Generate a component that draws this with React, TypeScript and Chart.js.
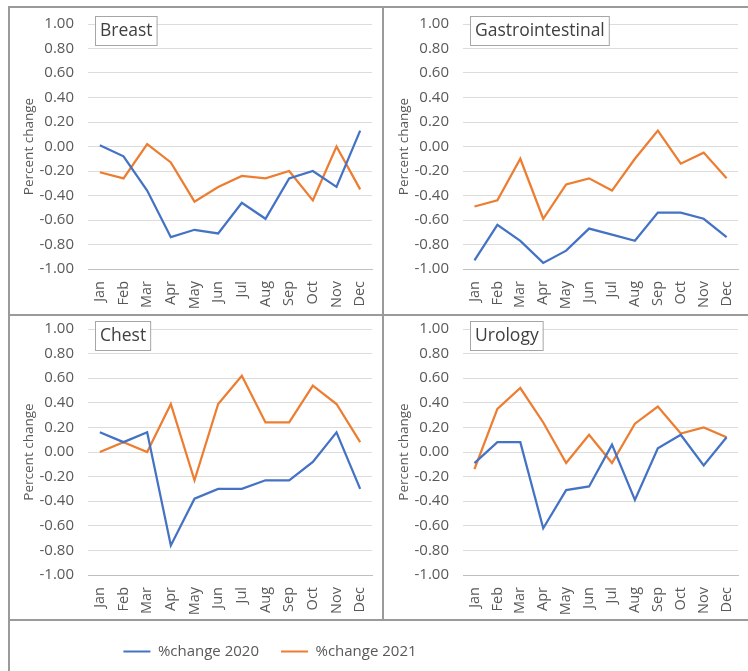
import React, { useEffect, useRef } from "react";
import { Chart, registerables } from "chart.js";
Chart.register(...registerables);

const MONTHS = ["Jan", "Feb", "Mar", "Apr", "May", "Jun", "Jul", "Aug", "Sep", "Oct", "Nov", "Dec"];
const SERIES_LABELS = ["%change 2020", "%change 2021"];
const SERIES_COLORS = ["#4472C4", "#ED7D31"];
const Y_MIN = -1;
const Y_MAX = 1;
const Y_STEP = 0.2;

const BREAST_2020 = [0.01, -0.08, -0.36, -0.74, -0.68, -0.71, -0.46, -0.59, -0.26, -0.2, -0.33, 0.13];
const BREAST_2021 = [-0.21, -0.26, 0.02, -0.13, -0.45, -0.33, -0.24, -0.26, -0.2, -0.44, 0.0, -0.35];
const GASTRO_2020 = [-0.93, -0.64, -0.77, -0.95, -0.85, -0.67, -0.72, -0.77, -0.54, -0.54, -0.59, -0.74];
const GASTRO_2021 = [-0.49, -0.44, -0.1, -0.59, -0.31, -0.26, -0.36, -0.1, 0.13, -0.14, -0.05, -0.26];
const CHEST_2020 = [0.16, 0.08, 0.16, -0.76, -0.38, -0.3, -0.3, -0.23, -0.23, -0.08, 0.16, -0.3];
const CHEST_2021 = [0.0, 0.08, 0.0, 0.39, -0.23, 0.39, 0.62, 0.24, 0.24, 0.54, 0.39, 0.08];
const UROLOGY_2020 = [-0.09, 0.08, 0.08, -0.62, -0.31, -0.28, 0.06, -0.39, 0.03, 0.14, -0.11, 0.12];
const UROLOGY_2021 = [-0.14, 0.35, 0.52, 0.24, -0.09, 0.14, -0.09, 0.23, 0.37, 0.15, 0.2, 0.12];

const FONT = '"Open Sans", "DejaVu Sans", sans-serif';

const titleBoxPlugin = {
  id: "titleBox",
  afterDraw(chart: any, _args: any, opts: any) {
    const { ctx, chartArea } = chart;
    if (!opts || !opts.text) return;
    ctx.save();
    ctx.font = `17.5px ${FONT}`;
    const w = ctx.measureText(opts.text).width;
    const x = Math.round(chartArea.left + 7);
    const y = Math.round(chartArea.top - 8);
    const bw = w + 9;
    const bh = 29;
    ctx.fillStyle = "#ffffff";
    ctx.fillRect(x, y, bw, bh);
    ctx.strokeStyle = "#a6a6a6";
    ctx.lineWidth = 1;
    ctx.strokeRect(x + 0.5, y + 0.5, bw, bh);
    ctx.fillStyle = "#404040";
    ctx.textBaseline = "middle";
    ctx.textAlign = "left";
    ctx.fillText(opts.text, x + 5, y + bh / 2 + 1);
    ctx.restore();
  },
};

type PanelProps = {
  title: string;
  s2020: number[];
  s2021: number[];
  left: number;
  top: number;
  width: number;
  height: number;
  yWidth: number;
  padTop: number;
  padRight: number;
  xHeight: number;
};

function Panel(p: PanelProps) {
  const ref = useRef<HTMLCanvasElement>(null);
  useEffect(() => {
    if (!ref.current) return;
    const chart = new Chart(ref.current, {
      type: "line",
      data: {
        labels: MONTHS,
        datasets: [
          {
            label: SERIES_LABELS[0],
            data: p.s2020,
            borderColor: SERIES_COLORS[0],
            backgroundColor: SERIES_COLORS[0],
            borderWidth: 2.25,
            pointRadius: 0,
            tension: 0,
          },
          {
            label: SERIES_LABELS[1],
            data: p.s2021,
            borderColor: SERIES_COLORS[1],
            backgroundColor: SERIES_COLORS[1],
            borderWidth: 2.25,
            pointRadius: 0,
            tension: 0,
          },
        ],
      },
      options: {
        animation: false,
        responsive: true,
        maintainAspectRatio: false,
        layout: { padding: { top: p.padTop, right: p.padRight, left: 0, bottom: 0 } },
        plugins: {
          legend: { display: false },
          tooltip: { enabled: false },
          titleBox: { text: p.title },
        } as any,
        scales: {
          x: {
            offset: true,
            grid: { display: false },
            border: { display: true, color: "#bfbfbf", width: 1 },
            ticks: {
              autoSkip: false,
              minRotation: 90,
              maxRotation: 90,
              padding: 4,
              color: "#595959",
              font: { family: FONT, size: 14.5 },
            },
            afterFit: (s: any) => {
              s.height = p.xHeight;
            },
          },
          y: {
            min: Y_MIN,
            max: Y_MAX,
            border: { display: false },
            grid: {
              drawTicks: false,
              color: (c: any) => (c.index === 0 ? "#bfbfbf" : "#dcdcdc"),
              lineWidth: 1,
            },
            ticks: {
              stepSize: Y_STEP,
              padding: 14,
              color: "#595959",
              font: { family: FONT, size: 15 },
              callback: (v: any) => Number(v).toFixed(2),
            },
            title: {
              display: true,
              text: "Percent change",
              color: "#595959",
              font: { family: FONT, size: 13.5 },
              padding: { top: 11, bottom: 0 },
            },
            afterFit: (s: any) => {
              s.width = p.yWidth;
            },
          },
        },
      },
      plugins: [titleBoxPlugin],
    } as any);
    return () => chart.destroy();
  }, []);
  return (
    <div style={{ position: "absolute", left: p.left, top: p.top, width: p.width, height: p.height }}>
      <canvas ref={ref} />
    </div>
  );
}

function Legend() {
  const ref = useRef<HTMLCanvasElement>(null);
  useEffect(() => {
    if (!ref.current) return;
    const chart = new Chart(ref.current, {
      type: "line",
      data: {
        labels: [],
        datasets: SERIES_LABELS.map((l, i) => ({
          label: l,
          data: [],
          borderColor: SERIES_COLORS[i],
          backgroundColor: SERIES_COLORS[i],
        })),
      },
      options: {
        animation: false,
        responsive: true,
        maintainAspectRatio: false,
        layout: { padding: { top: 0 } },
        scales: { x: { display: false }, y: { display: false } },
        plugins: {
          tooltip: { enabled: false },
          legend: {
            display: true,
            position: "top",
            onClick: () => {},
            labels: {
              boxWidth: 27,
              boxHeight: 2,
              padding: 22,
              color: "#595959",
              font: { family: FONT, size: 15 },
              generateLabels: (c: any) =>
                c.data.datasets.map((d: any, i: number) => ({
                  text: d.label,
                  fillStyle: d.borderColor,
                  strokeStyle: d.borderColor,
                  lineWidth: 0,
                  fontColor: "#595959",
                  datasetIndex: i,
                  hidden: false,
                })),
            },
          },
        },
      },
    } as any);
    return () => chart.destroy();
  }, []);
  return (
    <div style={{ position: "absolute", left: 10, top: 622, width: 520, height: 200 }}>
      <canvas ref={ref} />
    </div>
  );
}

const LINE = "#9a9a9a";

export default function App() {
  return (
    <div
      style={{
        position: "absolute",
        left: 0,
        top: 0,
        width: 748,
        height: 671,
        background: "#ffffff",
        overflow: "hidden",
      }}
    >
      <Panel title="Breast" s2020={BREAST_2020} s2021={BREAST_2021} left={10} top={1} width={372} height={313} yWidth={78} padTop={0} padRight={10} xHeight={45} />
      <Panel title="Gastrointestinal" s2020={GASTRO_2020} s2021={GASTRO_2021} left={385} top={1} width={363} height={313} yWidth={78} padTop={0} padRight={0} xHeight={45} />
      <Panel title="Chest" s2020={CHEST_2020} s2021={CHEST_2021} left={10} top={306} width={372} height={313} yWidth={78} padTop={0} padRight={10} xHeight={44} />
      <Panel title="Urology" s2020={UROLOGY_2020} s2021={UROLOGY_2021} left={385} top={306} width={363} height={313} yWidth={78} padTop={0} padRight={0} xHeight={44} />
      <Legend />
      <div style={{ position: "absolute", left: 8, top: 7, width: 2, height: 664, background: LINE }} />
      <div style={{ position: "absolute", left: 8, top: 6, width: 740, height: 2, background: LINE }} />
      <div style={{ position: "absolute", left: 382, top: 7, width: 2, height: 613, background: LINE }} />
      <div style={{ position: "absolute", left: 8, top: 314, width: 740, height: 2, background: LINE }} />
      <div style={{ position: "absolute", left: 8, top: 619, width: 740, height: 2, background: LINE }} />
    </div>
  );
}
